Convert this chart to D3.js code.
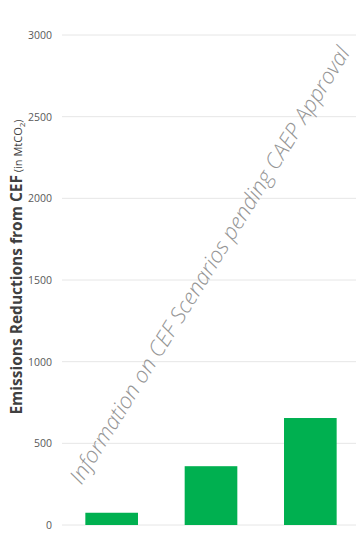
<!DOCTYPE html>
<html>
<head>
<meta charset="utf-8">
<script src="https://cdn.jsdelivr.net/npm/d3@7"></script>
<style>
  html, body { margin: 0; padding: 0; background: #fff; }
  svg { display: block; }
</style>
</head>
<body>
<svg id="chart" width="356" height="536"></svg>
<script>
// Emission reductions by scenario (MtCO2)
const categories = ["Scenario 1", "Scenario 2", "Scenario 3"];
const values = [75, 360, 655];
const yTicks = [0, 500, 1000, 1500, 2000, 2500, 3000];

const width = 356, height = 536;
const margin = { top: 35, right: -4, bottom: 11, left: 62 };

const svg = d3.select("#chart");

const x = d3.scaleBand()
  .domain(categories)
  .range([margin.left, width - margin.right])
  .paddingInner(0.47)
  .paddingOuter(0.235);

const y = d3.scaleLinear()
  .domain([0, 3000])
  .range([height - margin.bottom, margin.top]);

// gridlines
svg.append("g")
  .selectAll("line")
  .data(yTicks)
  .join("line")
  .attr("x1", margin.left)
  .attr("x2", width)
  .attr("y1", d => y(d))
  .attr("y2", d => y(d))
  .attr("stroke", "#e6e6e6")
  .attr("stroke-width", 1);

// y axis tick labels
const yAxis = d3.axisLeft(y).tickValues(yTicks).tickSize(0).tickPadding(10).tickFormat(d3.format("d"));
const gy = svg.append("g")
  .attr("transform", `translate(${margin.left},0)`)
  .call(yAxis);
gy.select(".domain").remove();
gy.selectAll("text")
  .attr("fill", "#595959")
  .style("font-family", "'Open Sans', sans-serif")
  .style("font-size", "10.5px");

// bars
svg.append("g")
  .selectAll("rect")
  .data(values)
  .join("rect")
  .attr("x", (d, i) => x(categories[i]))
  .attr("width", x.bandwidth())
  .attr("y", d => y(d))
  .attr("height", d => y(0) - y(d))
  .attr("fill", "#00b050");

// y axis title
const title = svg.append("text")
  .attr("transform", "translate(22,267) rotate(-90)")
  .attr("text-anchor", "middle")
  .attr("fill", "#404040")
  .style("font-family", "'Open Sans', sans-serif");
title.append("tspan")
  .style("font-weight", "bold")
  .style("font-size", "15.5px")
  .text("Emissions Reductions from CEF");
title.append("tspan")
  .style("font-size", "11px")
  .text(" (in MtCO");
title.append("tspan")
  .style("font-size", "8px")
  .attr("dy", 3)
  .text("2");
title.append("tspan")
  .style("font-size", "11px")
  .attr("dy", -3)
  .text(")");

// diagonal notice across the plot
svg.append("text")
  .attr("transform", "translate(211,266) rotate(-58.1)")
  .attr("text-anchor", "middle")
  .attr("dominant-baseline", "middle")
  .attr("fill", "#959595")
  .style("font-family", "'Open Sans', sans-serif")
  .style("font-style", "italic")
  .style("font-weight", "300")
  .style("font-size", "22px")
  .text("Information on CEF Scenarios pending CAEP Approval");
</script>
</body>
</html>
